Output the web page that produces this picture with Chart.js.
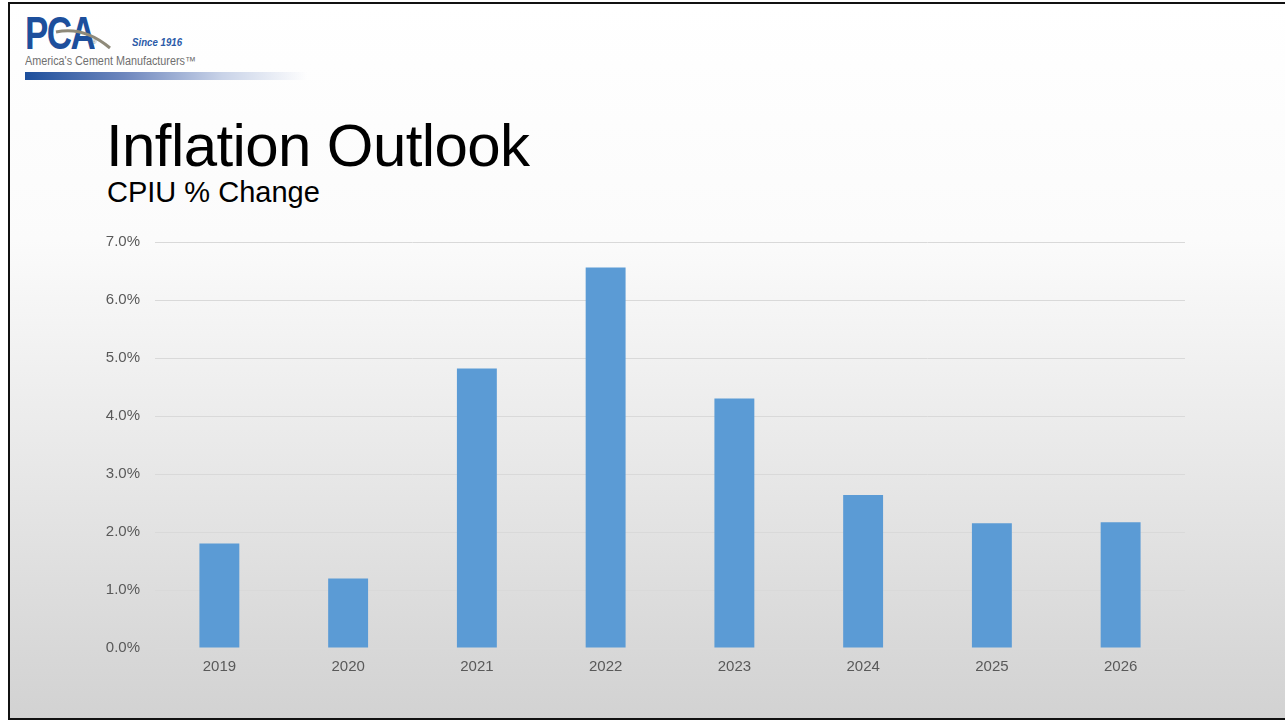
<!DOCTYPE html>
<html>
<head>
<meta charset="utf-8">
<script src="https://cdn.jsdelivr.net/npm/chart.js@4"></script>
<style>
  html, body { margin: 0; padding: 0; width: 1285px; height: 721px; overflow: hidden; background: #fff; }
  .slide {
    position: absolute; left: 8px; top: 2px; width: 1280px; height: 714px;
    border: 2px solid #111;
    background: linear-gradient(to bottom, #ffffff 0%, #fbfbfb 33%, #e7e7e7 66%, #d2d2d2 100%);
    font-family: "Liberation Sans", Arial, sans-serif;
  }
  .logo-pca {
    position: absolute; left: 15px; top: 2px; margin: 0;
    font: bold 46px "Liberation Sans", Arial, sans-serif; color: #1d4f9c;
    letter-spacing: -2px; transform: scaleX(0.76); transform-origin: left top;
  }
  .logo-reg { position: absolute; top: 35px; font-size: 6px; color: #777; }
  .logo-since {
    position: absolute; left: 122px; top: 32px;
    font: italic bold 11px "Liberation Sans", Arial, sans-serif; color: #2a5aa8;
    transform: scaleX(0.88); transform-origin: left top; white-space: nowrap;
  }
  .logo-tag {
    position: absolute; left: 15px; top: 50px;
    font: 12px "Liberation Sans", Arial, sans-serif; color: #6f6f6f;
    transform: scaleX(0.9); transform-origin: left top; white-space: nowrap;
  }
  .logo-bar {
    position: absolute; left: 15px; top: 68px; width: 282px; height: 8px;
    background: linear-gradient(to right, #1d4f9c 0%, #6d86bd 35%, #c9d3e8 70%, rgba(255,255,255,0) 100%);
  }
  .title {
    position: absolute; left: 96px; top: 107px; margin: 0;
    font-size: 60px; font-weight: normal; color: #000; letter-spacing: -0.6px; white-space: nowrap;
  }
  .subtitle { position: absolute; left: 97px; top: 172px; font-size: 29px; color: #000; white-space: nowrap; }
  #chartBox { position: absolute; left: 50px; top: 214px; width: 1125px; height: 468px; }
</style>
</head>
<body>
<div class="slide">
  <div class="logo-pca">PCA</div>
  <svg style="position:absolute;left:44px;top:16px" width="60" height="30">
    <path d="M2 12 Q30 6 56 28" stroke="#8f8a7a" stroke-width="3" fill="none"/>
  </svg>
  <div class="logo-reg" style="left:82px">®</div>
  <div class="logo-since">Since 1916</div>
  <div class="logo-tag">America's Cement Manufacturers™</div>
  <div class="logo-bar"></div>
  <h1 class="title">Inflation Outlook</h1>
  <div class="subtitle">CPIU % Change</div>
  <div id="chartBox"><canvas id="cpiChart"></canvas></div>
</div>
<script>
// CPI-U annual % change, forecast years included
const years = ['2019', '2020', '2021', '2022', '2023', '2024', '2025', '2026'];
const cpiChange = [1.8, 1.2, 4.82, 6.56, 4.3, 2.64, 2.15, 2.17];
const yTicks = [0, 1, 2, 3, 4, 5, 6, 7];

const ctx = document.getElementById('cpiChart').getContext('2d');
new Chart(ctx, {
    type: 'bar',
    data: {
        labels: years,
        datasets: [{
            label: 'CPIU % Change',
            data: cpiChange,
            backgroundColor: '#5b9bd5',
            borderWidth: 0,
            barPercentage: 0.31,
            categoryPercentage: 1
        }]
    },
    options: {
        responsive: true,
        maintainAspectRatio: false,
        animation: false,
        layout: { padding: { top: 10, right: 0, bottom: 0, left: 0 } },
        plugins: { legend: { display: false }, tooltip: { enabled: false } },
        scales: {
            x: {
                grid: { display: false },
                border: { display: false },
                ticks: { color: '#595959', font: { family: 'Liberation Sans', size: 15 }, padding: 2 },
                afterFit: (scale) => { scale.height = 38; }
            },
            y: {
                min: yTicks[0],
                max: yTicks[yTicks.length - 1],
                afterBuildTicks: (scale) => { scale.ticks = yTicks.map(v => ({ value: v })); },
                grid: { color: '#d9d9d9', lineWidth: 1, drawTicks: false },
                border: { display: false },
                ticks: {
                    color: '#595959',
                    font: { family: 'Liberation Sans', size: 15 },
                    padding: 15,
                    callback: (v) => v.toFixed(1) + '%'
                },
                afterFit: (scale) => { scale.width = 95; }
            }
        }
    }
});
</script>
</body>
</html>
